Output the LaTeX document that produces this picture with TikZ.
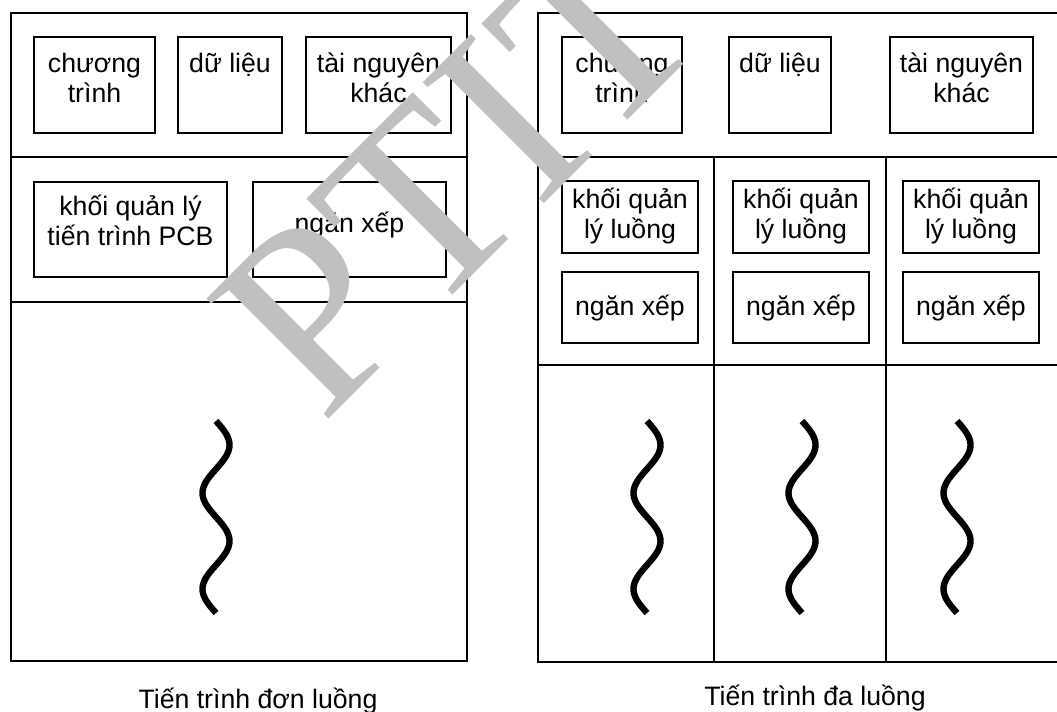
\documentclass[tikz,border=0pt]{standalone}
\usepackage{fontspec}
\setmainfont{Liberation Sans}
\newfontfamily\wmfont{Liberation Serif}
\usetikzlibrary{fit}
\definecolor{wmgray}{HTML}{C0C0C0}
\newcommand{\mylines}[1]{\begin{tabular}[t]{@{}c@{}}#1\end{tabular}}
\begin{document}
\begin{tikzpicture}[x=0.75pt, y=-0.75pt,
  line/.style={line width=1.5pt},
  frame/.style={draw, line width=1.5pt, inner sep=0pt},
  box/.style={draw, line width=1.5pt, inner sep=0pt},
  lbl/.style={inner sep=0pt, anchor=base, font=\fontsize{20pt}{22.5pt}\selectfont},
  captxt/.style={inner sep=0pt, anchor=base, font=\fontsize{20pt}{24pt}\selectfont},
  wave/.style={line width=4.8pt, line cap=butt},
  wm/.style={text=wmgray, inner sep=0pt, rotate=45, anchor=base west, font=\wmfont\fontsize{196pt}{196pt}\selectfont}
]
\useasboundingbox (0,0) rectangle (1057,711);
\clip (0,0) rectangle (1057,711);

% ---------- left: single-threaded process ----------
\node[frame, fit={(11,13) (467,661)}] (Lframe) {};
\coordinate (lh1) at (0,157);
\coordinate (lh2) at (0,302);
\draw[line] (Lframe.west |- lh1) -- (Lframe.east |- lh1);
\draw[line] (Lframe.west |- lh2) -- (Lframe.east |- lh2);

\node[box, fit={(34,37) (155,133)}] (L1) {};
\node[box, fit={(178,37) (282,133)}] (L2) {};
\node[box, fit={(306,37) (451,133)}] (L3) {};
\node[box, fit={(34,182) (227,277)}] (L4) {};
\node[box, fit={(253,182) (446,277)}] (L5) {};

\node[lbl] (L1t) at (94.5,72) {\mylines{chương\\trình}};
\node[lbl] (L2t) at (230,72) {dữ liệu};
\node[lbl] (L3t) at (378.5,72) {\mylines{tài nguyên\\khác}};
\node[lbl] (L4t) at (130.5,215) {\mylines{khối quản lý\\tiến trình PCB}};
\node[lbl] (L5t) at (349.5,232) {ngăn xếp};

\draw[wave] plot[variable=\t, domain=0:192, samples=97, smooth] ({216+13.5*sin(\t*3.75)}, {421+\t});

\node[captxt] (Lcap) at (258,708) {Tiến trình đơn luồng};

% ---------- right: multi-threaded process ----------
\node[frame, fit={(538,13) (1070,662)}] (Rframe) {};
\coordinate (rh1) at (0,157);
\coordinate (rh2) at (0,365);
\draw[line] (Rframe.west |- rh1) -- (Rframe.east |- rh1);
\draw[line] (Rframe.west |- rh2) -- (Rframe.east |- rh2);
\coordinate (rv1) at (714,157);
\coordinate (rv2) at (886,157);
\draw[line] (rv1) -- (rv1 |- Rframe.south);
\draw[line] (rv2) -- (rv2 |- Rframe.south);

\node[box, fit={(562,37) (682,133)}] (R1) {};
\node[box, fit={(729,37) (831,133)}] (R2) {};
\node[box, fit={(890,37) (1033,133)}] (R3) {};
\node[lbl] (R1t) at (622,72) {\mylines{chương\\trình}};
\node[lbl] (R2t) at (780,72) {dữ liệu};
\node[lbl] (R3t) at (961.5,72) {\mylines{tài nguyên\\khác}};

\node[box, fit={(562,181) (698,253)}] (T1k) {};
\node[box, fit={(562,272) (698,343)}] (T1s) {};
\node[box, fit={(733,181) (869,253)}] (T2k) {};
\node[box, fit={(733,272) (869,343)}] (T2s) {};
\node[box, fit={(903,181) (1039,253)}] (T3k) {};
\node[box, fit={(903,272) (1039,343)}] (T3s) {};

\node[lbl] (T1kt) at (630,208) {\mylines{khối quản\\lý luồng}};
\node[lbl] (T2kt) at (801,208) {\mylines{khối quản\\lý luồng}};
\node[lbl] (T3kt) at (971,208) {\mylines{khối quản\\lý luồng}};
\node[lbl] (T1st) at (630,315) {ngăn xếp};
\node[lbl] (T2st) at (801,315) {ngăn xếp};
\node[lbl] (T3st) at (971,315) {ngăn xếp};

\draw[wave] plot[variable=\t, domain=0:192, samples=97, smooth] ({647+13.5*sin(\t*3.75)}, {421+\t});
\draw[wave] plot[variable=\t, domain=0:192, samples=97, smooth] ({802+13.5*sin(\t*3.75)}, {421+\t});
\draw[wave] plot[variable=\t, domain=0:192, samples=97, smooth] ({957+13.5*sin(\t*3.75)}, {421+\t});

\node[captxt] (Rcap) at (815,705) {Tiến trình đa luồng};

% ---------- watermark ----------
\node[wm] (wmark) at (322,426) {PTIT};
\end{tikzpicture}
\end{document}
